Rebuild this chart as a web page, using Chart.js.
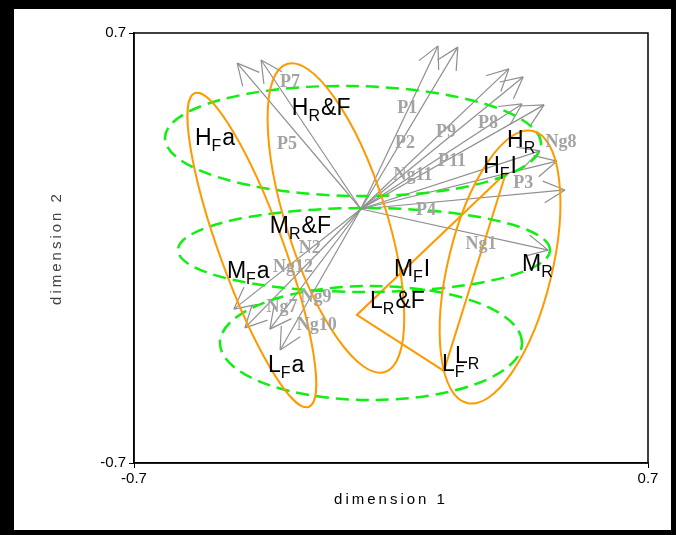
<!DOCTYPE html>
<html>
<head>
<meta charset="utf-8">
<script src="https://cdn.jsdelivr.net/npm/chart.js@4.4.0/dist/chart.umd.min.js"></script>
<style>
  html, body { margin: 0; padding: 0; background: #fff; }
  canvas { display: block; }
</style>
</head>
<body>
<canvas id="chart" width="684" height="535"></canvas>
<script>
// Rango de los dos ejes
const axisMin = -0.7;
const axisMax = 0.7;
const axisTicks = [-0.7, 0.7];

// Origen común de las flechas de variables
const arrowOrigin = { x: -0.082, y: 0.127 };

// Puntas de las flechas
const arrowTipX = [-0.419, -0.354, 0.128, 0.182, 0.321, 0.360, 0.357, 0.417, 0.406, 0.452, 0.474, 0.428, -0.428, -0.398, -0.330, -0.302];
const arrowTipY = [0.602, 0.612, 0.658, 0.654, 0.583, 0.557, 0.469, 0.466, 0.316, 0.283, 0.189, -0.007, -0.199, -0.260, -0.264, -0.332];

// Nombres de las variables y su posición
const varNames = ['P7', 'P5', 'P1', 'P2', 'P9', 'P8', 'P11', 'Ng11', 'Ng8', 'P3', 'P4', 'Ng1', 'N2', 'Ng12', 'Ng7', 'Ng9', 'Ng10'];
const varLabelX = [-0.275, -0.283, 0.044, 0.038, 0.150, 0.264, 0.166, 0.060, 0.463, 0.360, 0.095, 0.245, -0.221, -0.267, -0.297, -0.204, -0.202];
const varLabelY = [0.540, 0.339, 0.456, 0.342, 0.378, 0.407, 0.283, 0.238, 0.345, 0.212, 0.124, 0.013, 0.000, -0.062, -0.192, -0.160, -0.251];

// Grupos: letra, subíndice, resto
const groupMain = ['H', 'H', 'H', 'H', 'M', 'M', 'M', 'M', 'L', 'L', 'L', 'L'];
const groupSub = ['F', 'R', 'R', 'F', 'R', 'F', 'F', 'R', 'R', 'F', 'F', 'R'];
const groupRest = ['a', '&F', '', 'I', '&F', 'a', 'I', '', '&F', 'a', '', ''];
const groupX = [-0.534, -0.270, 0.316, 0.251, -0.330, -0.447, 0.008, 0.357, -0.057, -0.335, 0.139, 0.174];
const groupY = [0.335, 0.433, 0.329, 0.244, 0.049, -0.098, -0.091, -0.075, -0.195, -0.404, -0.400, -0.374];

// Elipses naranjas (Fa, R&F, R): centro y semiejes conjugados
const orangeCx = [-0.379, -0.150, 0.297];
const orangeCy = [-0.0065, 0.0977, -0.0619];
const orangeUx = [-0.155, -0.1335, 0.0899];
const orangeUy = [0.511, 0.5014, 0.4428];
const orangeVx = [0.082, 0.1297, 0.1375];
const orangeVy = [0.0355, 0.0495, -0.0400];

// Elipses verdes (H, M, L)
const greenCx = [-0.1035, -0.0735, -0.0545];
const greenCy = [0.3484, -0.0065, -0.3093];
const greenUx = [0.512, 0.5066, 0.4113];
const greenUy = [-0.0098, 0, 0];
const greenVx = [0, 0, 0];
const greenVy = [0.179, 0.1367, 0.1856];

// Triángulo del grupo FI
const triX = [0.313, -0.093, 0.144, 0.313];
const triY = [0.244, -0.218, -0.400, 0.244];

const ORANGE = '#ff9900';
const GREEN = '#11ee11';
const GRAY = '#8f8f8f';
const LABEL_GRAY = '#a3a3a3';

function drawEllipse(ctx, sx, sy, cx, cy, ux, uy, vx, vy) {
  const pcx = sx.getPixelForValue(cx), pcy = sy.getPixelForValue(cy);
  const pux = sx.getPixelForValue(cx + ux) - pcx, puy = sy.getPixelForValue(cy + uy) - pcy;
  const pvx = sx.getPixelForValue(cx + vx) - pcx, pvy = sy.getPixelForValue(cy + vy) - pcy;
  ctx.save();
  ctx.beginPath();
  ctx.transform(pux, puy, pvx, pvy, pcx, pcy);
  ctx.arc(0, 0, 1, 0, Math.PI * 2);
  ctx.restore();
  ctx.stroke();
}

const decor = {
  id: 'decor',
  beforeDraw(chart) {
    const ctx = chart.ctx;
    ctx.save();
    ctx.fillStyle = '#000';
    ctx.fillRect(0, 0, 676, 535);
    ctx.fillStyle = '#fff';
    ctx.fillRect(14, 9, 657, 521);
    ctx.restore();
  },
  afterDatasetsDraw(chart) {
    const ctx = chart.ctx;
    const sx = chart.scales.x, sy = chart.scales.y;
    ctx.save();

    // puntas de flecha
    const ox = sx.getPixelForValue(arrowOrigin.x), oy = sy.getPixelForValue(arrowOrigin.y);
    ctx.strokeStyle = GRAY;
    ctx.lineWidth = 1.2;
    arrowTipX.forEach((tx, i) => {
      const px = sx.getPixelForValue(tx), py = sy.getPixelForValue(arrowTipY[i]);
      const ang = Math.atan2(oy - py, ox - px);
      ctx.beginPath();
      [-1, 1].forEach(s => {
        ctx.moveTo(px, py);
        ctx.lineTo(px + 24 * Math.cos(ang + s * 0.47), py + 24 * Math.sin(ang + s * 0.47));
      });
      ctx.stroke();
    });

    // elipses verdes discontinuas
    ctx.strokeStyle = GREEN;
    ctx.lineWidth = 2.5;
    ctx.setLineDash([13, 7]);
    greenCx.forEach((cx, i) => {
      drawEllipse(ctx, sx, sy, cx, greenCy[i], greenUx[i], greenUy[i], greenVx[i], greenVy[i]);
    });

    // elipses naranjas
    ctx.setLineDash([]);
    ctx.strokeStyle = ORANGE;
    ctx.lineWidth = 2;
    orangeCx.forEach((cx, i) => {
      drawEllipse(ctx, sx, sy, cx, orangeCy[i], orangeUx[i], orangeUy[i], orangeVx[i], orangeVy[i]);
    });

    // etiquetas de variables
    ctx.fillStyle = LABEL_GRAY;
    ctx.font = 'bold 18px "Liberation Serif"';
    ctx.textAlign = 'center';
    ctx.textBaseline = 'middle';
    varNames.forEach((n, i) => {
      ctx.fillText(n, sx.getPixelForValue(varLabelX[i]), sy.getPixelForValue(varLabelY[i]));
    });

    // etiquetas de grupos con subíndice
    ctx.fillStyle = '#000';
    ctx.textAlign = 'left';
    ctx.textBaseline = 'alphabetic';
    groupMain.forEach((m, i) => {
      let px = sx.getPixelForValue(groupX[i]);
      const py = sy.getPixelForValue(groupY[i]);
      ctx.font = '23px "Liberation Sans"';
      ctx.fillText(m, px, py);
      px += ctx.measureText(m).width;
      ctx.font = '16px "Liberation Sans"';
      ctx.fillText(groupSub[i], px, py + 6);
      px += ctx.measureText(groupSub[i]).width + 1;
      if (groupRest[i]) {
        ctx.font = '23px "Liberation Sans"';
        ctx.fillText(groupRest[i], px, py);
      }
    });
    ctx.restore();
  },
  afterDraw(chart) {
    const ctx = chart.ctx;
    const a = chart.chartArea;
    ctx.save();
    ctx.strokeStyle = '#000';
    ctx.lineWidth = 1.5;
    ctx.strokeRect(a.left, a.top, a.right - a.left, a.bottom - a.top);

    // títulos de los ejes
    ctx.fillStyle = '#000';
    ctx.font = '15px "Liberation Sans"';
    ctx.letterSpacing = '3px';
    ctx.textAlign = 'center';
    ctx.textBaseline = 'middle';
    ctx.fillText('dimension 1', (a.left + a.right) / 2, 500);
    ctx.translate(57, (a.top + a.bottom) / 2);
    ctx.rotate(-Math.PI / 2);
    ctx.fillStyle = '#444';
    ctx.fillText('dimension 2', 0, 0);
    ctx.restore();
  }
};

const datasets = arrowTipX.map((tx, i) => ({
  data: [{ x: arrowOrigin.x, y: arrowOrigin.y }, { x: tx, y: arrowTipY[i] }],
  showLine: true,
  borderColor: GRAY,
  borderWidth: 1.2,
  pointRadius: 0,
}));

datasets.unshift({
  data: triX.map((x, i) => ({ x: x, y: triY[i] })),
  showLine: true,
  borderColor: ORANGE,
  borderWidth: 2,
  pointRadius: 0,
});

function axisOpts(isY) {
  return {
    type: 'linear',
    min: axisMin,
    max: axisMax,
    afterBuildTicks: s => { s.ticks = axisTicks.map(v => ({ value: v })); },
    afterFit: s => { if (isY) s.width = 134; else s.height = 72; },
    grid: { drawOnChartArea: false, drawTicks: true, tickLength: 5, color: '#000' },
    border: { display: true, color: '#000', width: 1.5 },
    ticks: {
      autoSkip: false,
      maxRotation: 0,
      padding: isY ? 3 : 2,
      color: '#000',
      font: { family: 'Liberation Sans', size: 15 },
      callback: v => v.toFixed(1),
    },
  };
}

new Chart(document.getElementById('chart'), {
  type: 'scatter',
  data: { datasets: datasets },
  options: {
    responsive: false,
    animation: false,
    layout: { padding: { left: 0, right: 36, top: 33, bottom: 0 } },
    scales: { x: axisOpts(false), y: axisOpts(true) },
    plugins: { legend: { display: false }, tooltip: { enabled: false } },
  },
  plugins: [decor],
});
</script>
</body>
</html>
